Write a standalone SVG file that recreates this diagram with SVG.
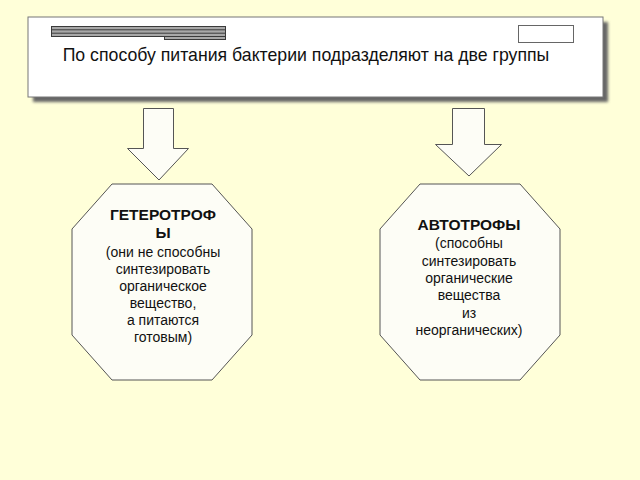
<svg xmlns="http://www.w3.org/2000/svg" width="640" height="480" viewBox="0 0 640 480">
<style>
.t{font-family:"Liberation Sans",Arial,sans-serif;fill:#111;}
.title{font-size:17.7px;}
.b{font-size:15.5px;font-weight:bold;text-anchor:middle;}
.n{font-size:14px;text-anchor:middle;}
.oct{fill:#fdfdf6;stroke:#555;stroke-width:1;}
.arr{fill:#fdfdf6;stroke:#555;stroke-width:1;}
.deco{fill:#a8a8a8;stroke:#3a3a3a;stroke-width:1;}
</style>
<defs>
<filter id="blur" x="-5%" y="-20%" width="110%" height="140%"><feGaussianBlur stdDeviation="1.5"/></filter>
</defs>
<rect width="640" height="480" fill="#ffffd9"/>
<g id="header">
<rect x="33" y="22" width="575" height="80" fill="#666" filter="url(#blur)"/>
<rect x="28" y="17" width="575" height="80" fill="#ffffff" stroke="#777" stroke-width="1"/>
<rect class="deco" x="51.5" y="26.5" width="174" height="10"/>
<line x1="51.5" y1="29.8" x2="225.5" y2="29.8" stroke="#3a3a3a" stroke-width="1"/>
<line x1="51.5" y1="33.2" x2="225.5" y2="33.2" stroke="#3a3a3a" stroke-width="1"/>
<rect class="deco" x="164.5" y="36.5" width="61" height="3"/>
<rect x="518.5" y="25.5" width="55" height="17" fill="#fff" stroke="#666" stroke-width="1"/>
<text class="t title" x="306" y="61" text-anchor="middle">По способу питания бактерии подразделяют на две группы</text>
</g>
<g id="connectors">
<polygon class="arr" points="143.5,108.5 173.5,108.5 173.5,148.5 188.5,148.5 159,180 127.5,148.5 143.5,148.5"/>
<polygon class="arr" points="452.5,108.5 484.5,108.5 484.5,144.5 501.5,144.5 469,176 435.5,144.5 452.5,144.5"/>
</g>
<g id="heterotrophs">
<polygon class="oct" points="112,184 212,184 252,229 252,335 212,380 112,380 72,335 72,229"/>
<text class="t b" x="163" y="220">ГЕТЕРОТРОФ</text>
<text class="t b" x="163" y="238">Ы</text>
<text class="t n" x="163" y="257">(они не способны</text>
<text class="t n" x="163" y="274">синтезировать</text>
<text class="t n" x="163" y="291">органическое</text>
<text class="t n" x="163" y="308">вещество,</text>
<text class="t n" x="163" y="325">а питаются</text>
<text class="t n" x="163" y="342">готовым)</text>
</g>
<g id="autotrophs">
<polygon class="oct" points="420,184 520,184 560,229 560,335 520,380 420,380 380,335 380,229"/>
<text class="t b" x="469" y="230">АВТОТРОФЫ</text>
<text class="t n" x="469" y="248">(способны</text>
<text class="t n" x="469" y="266">синтезировать</text>
<text class="t n" x="469" y="283">органические</text>
<text class="t n" x="469" y="300">вещества</text>
<text class="t n" x="469" y="318">из</text>
<text class="t n" x="469" y="335">неорганических)</text>
</g>
</svg>
